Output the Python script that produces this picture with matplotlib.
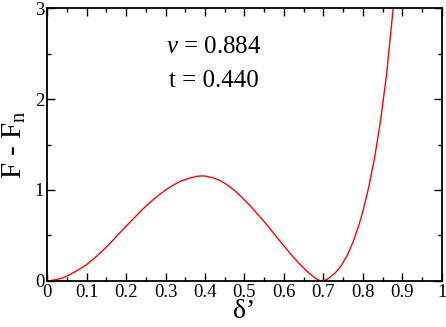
import matplotlib
matplotlib.use('Agg')
import matplotlib.pyplot as plt
from matplotlib.ticker import MultipleLocator, FormatStrFormatter

# values
delta = [0.0, 0.02, 0.04, 0.06, 0.08, 0.1, 0.12, 0.14, 0.16, 0.18, 0.2,
         0.22, 0.24, 0.26, 0.28, 0.3, 0.32, 0.34, 0.36, 0.38, 0.39, 0.4,
         0.42, 0.44, 0.46, 0.48, 0.5, 0.52, 0.54, 0.56, 0.58, 0.6, 0.62,
         0.64, 0.66, 0.675, 0.685, 0.695, 0.705, 0.715, 0.73, 0.745, 0.76,
         0.775, 0.79, 0.8, 0.815, 0.83, 0.845, 0.86, 0.87, 0.88]
free_energy = [0.0, 0.012, 0.035, 0.075, 0.125, 0.18, 0.25, 0.33, 0.415, 0.51, 0.60,
               0.69, 0.78, 0.86, 0.935, 1.0, 1.055, 1.10, 1.13, 1.15, 1.155, 1.153,
               1.135, 1.10, 1.045, 0.975, 0.89, 0.80, 0.70, 0.60, 0.49, 0.385, 0.28,
               0.185, 0.10, 0.045, 0.015, 0.0, 0.01, 0.035, 0.09, 0.17, 0.28,
               0.43, 0.62, 0.77, 1.04, 1.37, 1.78, 2.28, 2.72, 3.15]

plt.rcParams['font.family'] = ['Liberation Serif', 'DejaVu Serif']
plt.rcParams['mathtext.fontset'] = 'custom'
plt.rcParams['mathtext.rm'] = 'Liberation Serif'
plt.rcParams['mathtext.it'] = 'Liberation Serif:italic'

fig = plt.figure(figsize=(4.46, 3.27), dpi=100)
ax = fig.add_axes([0.1054, 0.1407, 0.8856, 0.8348])

ax.plot(delta, free_energy, color='red', linewidth=1.0)

ax.set_xlim(0, 1)
ax.set_ylim(0, 3)
ax.xaxis.set_major_locator(MultipleLocator(0.1))
ax.xaxis.set_minor_locator(MultipleLocator(0.05))
ax.yaxis.set_major_locator(MultipleLocator(1))
ax.yaxis.set_minor_locator(MultipleLocator(0.5))
ax.xaxis.set_major_formatter(FormatStrFormatter('%g'))
ax.yaxis.set_major_formatter(FormatStrFormatter('%g'))

ax.tick_params(which='both', direction='in', top=True, right=True,
               labelsize=13.5, width=1.0, pad=2)
ax.tick_params(which='major', length=6)
ax.tick_params(which='minor', length=3)
for s in ax.spines.values():
    s.set_linewidth(1.3)

ax.set_xlabel("δ’", fontsize=20, labelpad=-1)
ax.set_ylabel(r"F - F$_\mathrm{n}$", fontsize=21, labelpad=5)

ax.text(0.423, 2.57, r"$v$ = 0.884", fontsize=18, ha='center', va='center')
ax.text(0.423, 2.2, "t = 0.440", fontsize=18, ha='center', va='center')

fig.savefig('out.png', dpi=100)
